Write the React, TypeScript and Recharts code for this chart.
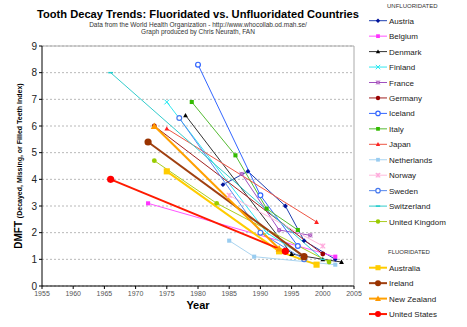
import React from "react";
import { LineChart, Line, XAxis, YAxis, CartesianGrid, ReferenceLine } from "recharts";

// ---- data: [year, DMFT] ----
const austria = [[1984, 3.8], [1988, 4.3], [1994, 3.0], [1997, 1.7], [2002, 1.0]];
const belgium = [[1972, 3.1], [2002, 1.1]];
const denmark = [[1978, 6.4], [1995, 1.2], [2000, 1.0], [2003, 0.9]];
const finland = [[1975, 6.9], [1991, 2.0], [1997, 1.1]];
const france = [[1987, 4.2], [1993, 2.1], [1998, 1.9]];
const germany = [[1973, 6.0], [2000, 1.2]];
const iceland = [[1980, 8.3], [1990, 3.4], [1996, 1.5]];
const italy = [[1979, 6.9], [1986, 4.9], [1991, 2.9], [1996, 2.1]];
const japan = [[1975, 5.9], [1999, 2.4]];
const netherlands = [[1985, 1.7], [1989, 1.1], [2002, 0.8]];
const norway = [[1985, 3.4], [2000, 1.5]];
const sweden = [[1977, 6.3], [1990, 2.0], [1997, 1.0]];
const switzerland = [[1966, 8.0], [2000, 1.0]];
const unitedKingdom = [[1973, 4.7], [1983, 3.1], [2001, 0.9]];
const australia = [[1975, 4.3], [1993, 1.3], [1999, 0.8]];
const ireland = [[1972, 5.4], [1997, 1.1]];
const newZealand = [[1973, 6.0], [1993, 1.4]];
const unitedStates = [[1966, 4.0], [1994, 1.3]];

const xTicks = [1955, 1960, 1965, 1970, 1975, 1980, 1985, 1990, 1995, 2000, 2005];
const yTicks = [0, 1, 2, 3, 4, 5, 6, 7, 8, 9];

type S = { name: string; pts: number[][]; color: string; line: string; shape: string; fl: boolean };

const unfluoridated: S[] = [
  { name: "Austria", pts: austria, color: "#00129a", line: "#2040b0", shape: "diamond", fl: false },
  { name: "Belgium", pts: belgium, color: "#ff33ff", line: "#ff55ff", shape: "square", fl: false },
  { name: "Denmark", pts: denmark, color: "#000000", line: "#333333", shape: "triangle", fl: false },
  { name: "Finland", pts: finland, color: "#22e8f0", line: "#33e8f0", shape: "x", fl: false },
  { name: "France", pts: france, color: "#9933aa", line: "#a050c0", shape: "xsquare", fl: false },
  { name: "Germany", pts: germany, color: "#990000", line: "#a02020", shape: "circle", fl: false },
  { name: "Iceland", pts: iceland, color: "#3366ff", line: "#3366ff", shape: "ocircle", fl: false },
  { name: "Italy", pts: italy, color: "#33bb00", line: "#55bb33", shape: "square", fl: false },
  { name: "Japan", pts: japan, color: "#ff2222", line: "#ee5544", shape: "triangle", fl: false },
  { name: "Netherlands", pts: netherlands, color: "#99ccf0", line: "#aad4f0", shape: "square", fl: false },
  { name: "Norway", pts: norway, color: "#ffaadd", line: "#ffbbdd", shape: "star", fl: false },
  { name: "Sweden", pts: sweden, color: "#4477ee", line: "#5588ee", shape: "ocircle", fl: false },
  { name: "Switzerland", pts: switzerland, color: "#22cccc", line: "#33cccc", shape: "dash", fl: false },
  { name: "United Kingdom", pts: unitedKingdom, color: "#99cc00", line: "#aacc22", shape: "circle", fl: false },
];
const fluoridated: S[] = [
  { name: "Australia", pts: australia, color: "#ffcc00", line: "#ffcc00", shape: "square", fl: true },
  { name: "Ireland", pts: ireland, color: "#993300", line: "#a04010", shape: "circle", fl: true },
  { name: "New Zealand", pts: newZealand, color: "#ff9900", line: "#ffa000", shape: "triangle", fl: true },
  { name: "United States", pts: unitedStates, color: "#ff0000", line: "#ff1a00", shape: "circle", fl: true },
];
const allSeries = [...unfluoridated, ...fluoridated];

function Marker({ cx, cy, shape, color, r }: any) {
  if (cx == null || cy == null) return null;
  switch (shape) {
    case "diamond":
      return <path d={`M${cx},${cy - r} L${cx + r},${cy} L${cx},${cy + r} L${cx - r},${cy} Z`} fill={color} />;
    case "square":
      return <rect x={cx - r * 0.85} y={cy - r * 0.85} width={r * 1.7} height={r * 1.7} fill={color} />;
    case "triangle":
      return <path d={`M${cx},${cy - r} L${cx + r},${cy + r * 0.8} L${cx - r},${cy + r * 0.8} Z`} fill={color} />;
    case "circle":
      return <circle cx={cx} cy={cy} r={r} fill={color} />;
    case "ocircle":
      return <circle cx={cx} cy={cy} r={r} fill="#fff" stroke={color} strokeWidth={1.2} />;
    case "x":
      return (
        <g stroke={color} strokeWidth={1}>
          <line x1={cx - r} y1={cy - r} x2={cx + r} y2={cy + r} />
          <line x1={cx - r} y1={cy + r} x2={cx + r} y2={cy - r} />
        </g>
      );
    case "xsquare":
      return (
        <g>
          <rect x={cx - r * 0.8} y={cy - r * 0.8} width={r * 1.6} height={r * 1.6} fill={color} opacity={0.8} />
          <line x1={cx - r} y1={cy - r} x2={cx + r} y2={cy + r} stroke="#d0a0e0" strokeWidth={0.8} />
          <line x1={cx - r} y1={cy + r} x2={cx + r} y2={cy - r} stroke="#d0a0e0" strokeWidth={0.8} />
        </g>
      );
    case "star":
      return (
        <g stroke={color} strokeWidth={1.2}>
          <line x1={cx - r} y1={cy - r} x2={cx + r} y2={cy + r} />
          <line x1={cx - r} y1={cy + r} x2={cx + r} y2={cy - r} />
          <line x1={cx} y1={cy - r} x2={cx} y2={cy + r} />
        </g>
      );
    case "dash":
      return <line x1={cx - r} y1={cy} x2={cx + r} y2={cy} stroke={color} strokeWidth={1.5} />;
    default:
      return null;
  }
}

const FONT = "Arial, 'Liberation Sans', sans-serif";

function LegendItem({ s, y }: { s: S; y: number }) {
  return (
    <g>
      <line x1={369} y1={y} x2={387} y2={y} stroke={s.line} strokeWidth={s.fl ? 2 : 1} />
      <Marker cx={378} cy={y} shape={s.shape} color={s.color} r={s.fl ? 3 : 2.2} />
      <text x={389} y={y + 3} fontSize={8} fill="#222" fontFamily={FONT}>{s.name}</text>
    </g>
  );
}

export default function App() {
  return (
    <div style={{ position: "absolute", left: 0, top: 0, width: 467, height: 327, background: "#fff" }}>
      <LineChart
        width={467}
        height={327}
        margin={{ top: 46, right: 113, left: 12, bottom: 21 }}
      >
        <CartesianGrid horizontal={true} vertical={false} stroke="#b8b8b8" strokeDasharray="2 2" />
        <XAxis
          type="number"
          dataKey="year"
          domain={[1955, 2005]}
          ticks={xTicks}
          allowDuplicatedCategory={false}
          height={20}
          stroke="#000"
          tickSize={3}
          tick={{ fontSize: 7, fill: "#555", fontFamily: FONT }}
        />
        <YAxis
          type="number"
          domain={[0, 9]}
          ticks={yTicks}
          width={30}
          stroke="#000"
          tickSize={3}
          tick={{ fontSize: 10, fill: "#222", fontFamily: FONT }}
        />
        <ReferenceLine y={9} stroke="#aaa" strokeWidth={1} />
        <ReferenceLine x={2005} stroke="#aaa" strokeWidth={1} />
        {allSeries.map((s) => (
          <Line
            key={s.name}
            data={s.pts.map(([year, v]) => ({ year, v }))}
            dataKey="v"
            type="linear"
            stroke={s.line}
            strokeWidth={s.fl ? 2 : 1}
            isAnimationActive={false}
            dot={(p: any) => (
              <Marker key={`${s.name}-${p.index}`} cx={p.cx} cy={p.cy} shape={s.shape} color={s.color} r={s.fl ? 3.6 : 2.4} />
            )}
            activeDot={false}
          />
        ))}
      </LineChart>
      <svg width={467} height={327} style={{ position: "absolute", left: 0, top: 0, pointerEvents: "none" }}>
        <text x={198} y={18} textAnchor="middle" fontSize={11.2} fontWeight="bold" fill="#000" fontFamily={FONT}
          textLength={322} lengthAdjust="spacingAndGlyphs">
          Tooth Decay Trends:  Fluoridated vs. Unfluoridated Countries
        </text>
        <text x={198} y={26.5} textAnchor="middle" fontSize={6.5} fill="#333" fontFamily={FONT}>
          Data from the World Health Organization - http://www.whocollab.od.mah.se/
        </text>
        <text x={198} y={33.5} textAnchor="middle" fontSize={6.5} fill="#333" fontFamily={FONT}>
          Graph produced by Chris Neurath, FAN
        </text>
        <text
          transform="translate(22,166) rotate(-90)"
          textAnchor="middle"
          fontWeight="bold"
          fill="#000"
          fontFamily={FONT}
        >
          <tspan fontSize={10}>DMFT </tspan>
          <tspan fontSize={7}>(Decayed, Missing, or Filled Teeth Index)</tspan>
        </text>
        <text x={198} y={309} textAnchor="middle" fontSize={11} fontWeight="bold" fill="#000" fontFamily={FONT}>
          Year
        </text>
        <text x={387} y={7.5} fontSize={6} fill="#333" fontFamily={FONT}>UNFLUORIDATED</text>
        {unfluoridated.map((s, i) => (
          <LegendItem key={s.name} s={s} y={20.7 + i * 15.45} />
        ))}
        <text x={388} y={254} fontSize={6} fill="#333" fontFamily={FONT}>FLUORIDATED</text>
        {fluoridated.map((s, i) => (
          <LegendItem key={s.name} s={s} y={267.7 + i * 15.45} />
        ))}
      </svg>
    </div>
  );
}
